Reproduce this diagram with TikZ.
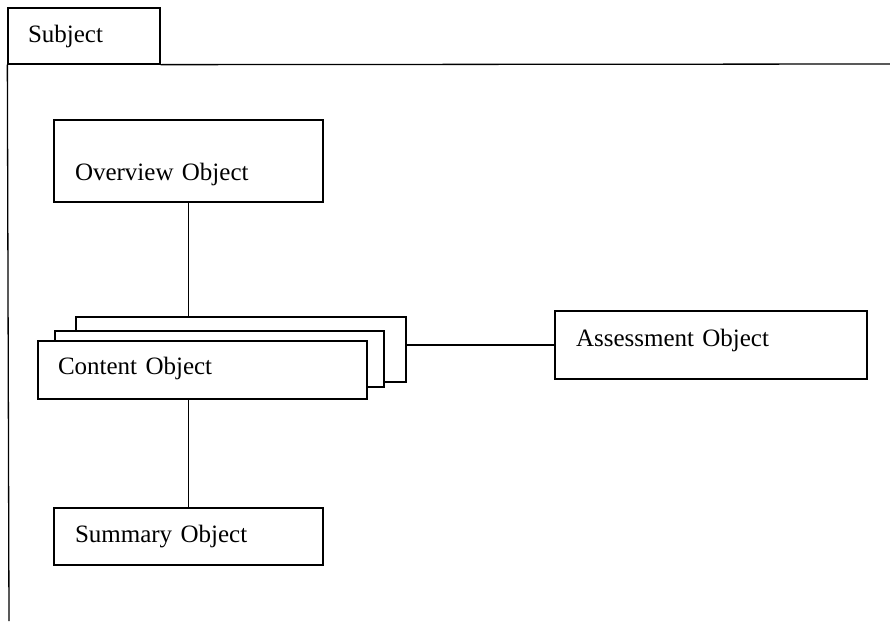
\documentclass[tikz,border=0pt]{standalone}
\usepackage{fontspec}
\setmainfont{Liberation Serif}
\usepackage{tikz}

\begin{document}
\begin{tikzpicture}[x=1pt,y=-1pt,
  obj/.style={draw,line width=1.3pt,fill=white,rectangle,inner sep=0pt,align=left,
    font=\fontsize{25}{30}\selectfont},
  link/.style={line width=1.3pt}]
\useasboundingbox (0,0) rectangle (890,621);
% The subject tab and its open frame
\node[obj,minimum width=152pt,minimum height=56pt,text width=112pt] (subject) at (84,36) {Subject};
\coordinate (frameright) at (890,64);
\coordinate (framebottom) at (9,621);
\draw[link] (subject.south east) -- (frameright);
\draw[link] (subject.south west) -- (framebottom);
% Then the objects inside it
\node[obj,minimum width=269pt,minimum height=82pt,text width=227pt] (overview) at (188.5,161) {\raisebox{-13pt}[\height][\depth]{Overview Object}};
\node[obj,minimum width=330pt,minimum height=65pt] (back) at (241,349.5) {};
\node[obj,minimum width=329pt,minimum height=56pt] (middle) at (219.5,359) {};
\node[obj,line width=2.6pt,minimum width=329pt,minimum height=58pt,text width=289pt] (content) at (202.5,370) {\raisebox{2pt}[\height][\depth]{Content Object}};
\node[obj,minimum width=312pt,minimum height=68pt,text width=270pt] (assessment) at (711,345) {\raisebox{5pt}[\height][\depth]{Assessment Object}};
\node[obj,minimum width=269pt,minimum height=57pt,text width=227pt] (summary) at (188.5,536.5) {Summary Object};
% Connectors
\draw[link] (overview.south) -- (overview.south |- back.north);
\draw[link] (assessment.west -| back.east) -- (assessment.west);
\draw[link] (content.south -| summary.north) -- (summary.north);
\end{tikzpicture}
\end{document}
